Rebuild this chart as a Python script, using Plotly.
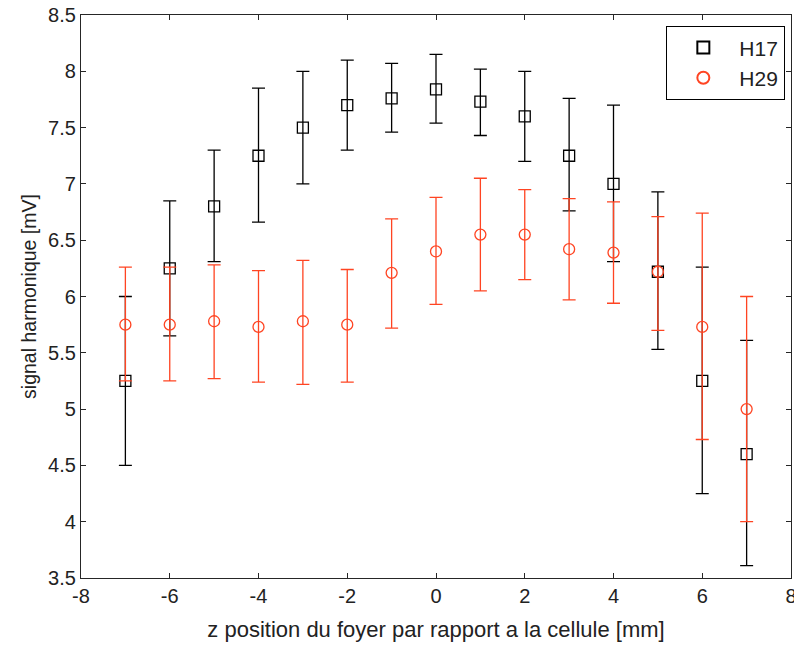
import numpy as np
import plotly.graph_objects as go

z = [-7, -6, -5, -4, -3, -2, -1, 0, 1, 2, 3, 4, 5, 6, 7]

h17 = [5.25, 6.25, 6.8, 7.25, 7.5, 7.7, 7.76, 7.84, 7.73, 7.6, 7.25, 7.0, 6.22, 5.25, 4.6]
h17_upper = [6.0, 6.85, 7.3, 7.85, 8.0, 8.1, 8.07, 8.15, 8.02, 8.0, 7.76, 7.7, 6.93, 6.26, 5.61]
h17_lower = [4.5, 5.65, 6.31, 6.66, 7.0, 7.3, 7.46, 7.54, 7.43, 7.2, 6.76, 6.31, 5.53, 4.25, 3.61]

h29 = [5.75, 5.75, 5.78, 5.73, 5.78, 5.75, 6.21, 6.4, 6.55, 6.55, 6.42, 6.39, 6.22, 5.73, 5.0]
h29_upper = [6.26, 6.26, 6.28, 6.23, 6.32, 6.24, 6.69, 6.88, 7.05, 6.95, 6.87, 6.84, 6.71, 6.74, 6.0]
h29_lower = [5.25, 5.25, 5.27, 5.24, 5.22, 5.24, 5.72, 5.93, 6.05, 6.15, 5.97, 5.94, 5.70, 4.73, 4.0]

x_ticks = [-8, -6, -4, -2, 0, 2, 4, 6, 8]
y_ticks = [3.5, 4, 4.5, 5, 5.5, 6, 6.5, 7, 7.5, 8, 8.5]

BLACK = "#000000"
RED = "#ff4422"
FONT = "Liberation Sans, Arial, sans-serif"
TXT = "#222222"


def errs(v, up, lo):
    v = np.array(v); up = np.array(up); lo = np.array(lo)
    return up - v, v - lo


e17p, e17m = errs(h17, h17_upper, h17_lower)
e29p, e29m = errs(h29, h29_upper, h29_lower)

fig = go.Figure()
fig.add_trace(go.Scatter(
    x=z, y=h17, mode="markers", name="H17",
    marker=dict(symbol="square-open", size=11, color=BLACK, line=dict(width=1.3, color=BLACK)),
    error_y=dict(type="data", symmetric=False, array=e17p, arrayminus=e17m,
                 color=BLACK, thickness=1.3, width=6.5),
))
fig.add_trace(go.Scatter(
    x=z, y=h29, mode="markers", name="H29",
    marker=dict(symbol="circle-open", size=11, color=RED, line=dict(width=1.3, color=RED)),
    error_y=dict(type="data", symmetric=False, array=e29p, arrayminus=e29m,
                 color=RED, thickness=1.3, width=6.5),
))

axis_common = dict(
    showgrid=False, zeroline=False, showline=True, linecolor="#262626", linewidth=1.3,
    mirror="allticks", ticks="inside", ticklen=5, tickcolor="#262626", tickwidth=1.2,
    tickfont=dict(family=FONT, size=20, color=TXT), automargin=False,
    ticklabeloverflow="allow",
)

fig.update_layout(
    width=794, height=646,
    margin=dict(l=81, r=3, t=15, b=68),
    paper_bgcolor="white", plot_bgcolor="white",
    font=dict(family=FONT, size=20, color=TXT),
    xaxis=dict(range=[-8, 8], tickvals=x_ticks, ticktext=[str(v) for v in x_ticks],
               title=dict(text="z position du foyer par rapport a la cellule [mm]",
                          font=dict(family=FONT, size=22, color=TXT), standoff=15),
               **axis_common),
    yaxis=dict(range=[3.5, 8.5], tickvals=y_ticks, ticktext=[f"{v:g}" for v in y_ticks],
               title=dict(text="signal harmonique [mV]", font=dict(family=FONT, size=19.5, color=TXT), standoff=6),
               **axis_common),
    legend=dict(x=0.9916, y=0.9805, xanchor="right", yanchor="top",
                bgcolor="white", bordercolor="#000000", borderwidth=1.3,
                font=dict(family=FONT, size=21, color=TXT),
                itemsizing="constant", itemwidth=62),
    showlegend=True,
)

fig.write_html("out.html", config={"displayModeBar": False},
               post_script="document.body.style.margin='0';document.body.style.overflow='hidden';")
